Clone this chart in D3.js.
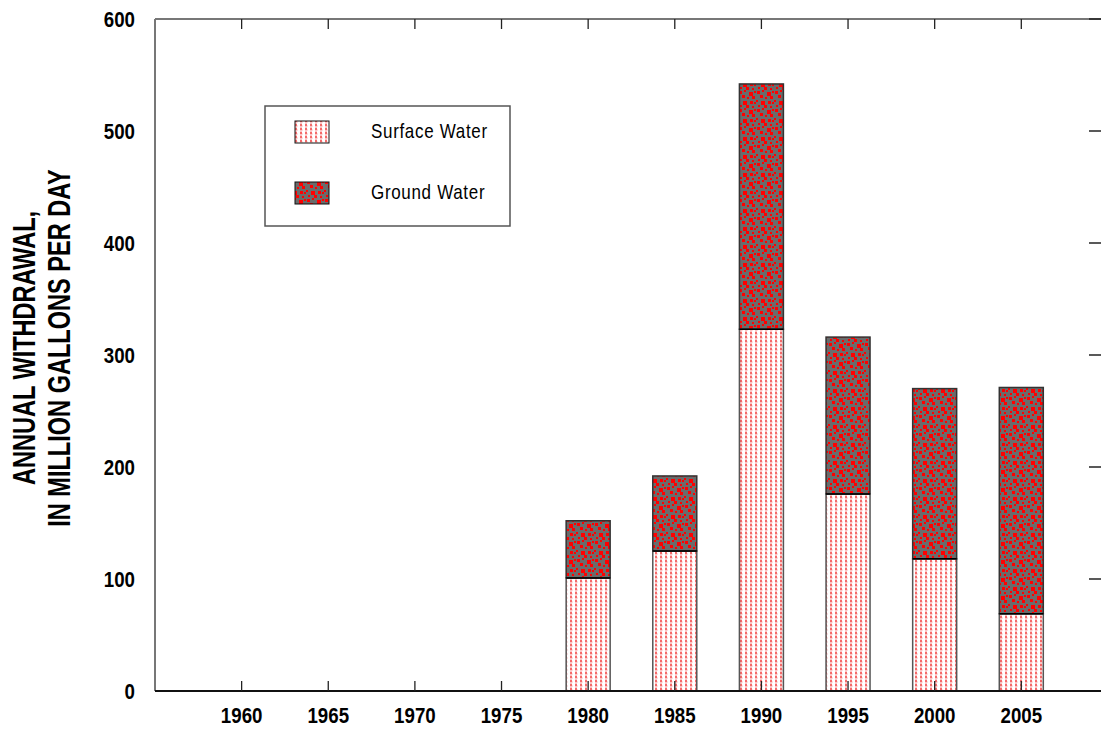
<!DOCTYPE html>
<html>
<head>
<meta charset="utf-8">
<script src="https://cdn.jsdelivr.net/npm/d3@7"></script>
<style>
  html, body { margin: 0; padding: 0; background: #fff; }
  svg { display: block; }
  text { font-family: "Liberation Sans", Arial, sans-serif; }
</style>
</head>
<body>
<div id="chart"></div>
<script>
(function() {
  'use strict';

  // data
  var years = [1960, 1965, 1970, 1975, 1980, 1985, 1990, 1995, 2000, 2005];
  var surfaceWater = [0, 0, 0, 0, 101, 125, 323, 176, 118, 69];
  var groundWater = [0, 0, 0, 0, 51, 67, 219, 140, 152, 202];
  var yTicks = [0, 100, 200, 300, 400, 500, 600];
  var seriesNames = ['Surface Water', 'Ground Water'];

  var width = 1102, height = 729;
  var margin = { left: 155, top: 19, right: 1101, bottom: 691 };

  var svg = d3.select('#chart')
      .append('svg')
    .attr('width', width)
    .attr('height', height);

  // narrow text: no condensed font installed, so squeeze horizontally
  function narrowText(parent, px, py, sx, str) {
    return parent.append('g')
      .attr('transform', 'translate(' + px + ',' + py + ') scale(' + sx + ',1)')
      .append('text')
      .text(str);
  }

  var defs = svg.append('defs');

  // surface water: white with pink/red dots in columns
  var pSurf = defs.append('pattern')
    .attr('id', 'surf')
    .attr('patternUnits', 'userSpaceOnUse')
    .attr('width', 5).attr('height', 4);
  pSurf.append('rect').attr('width', 5).attr('height', 4).attr('fill', '#fff');
  pSurf.append('rect').attr('x', 0).attr('y', 0).attr('width', 2).attr('height', 2).attr('fill', '#f46a6a');
  pSurf.append('rect').attr('x', 0).attr('y', 2).attr('width', 2).attr('height', 2).attr('fill', '#fbc4c4');
  pSurf.append('rect').attr('x', 2).attr('y', 1).attr('width', 1).attr('height', 2).attr('fill', '#fde0e0');

  // ground water: gray with scattered red squares
  var pGround = defs.append('pattern')
    .attr('id', 'ground')
    .attr('patternUnits', 'userSpaceOnUse')
    .attr('width', 18).attr('height', 18);
  pGround.append('rect').attr('width', 18).attr('height', 18).attr('fill', '#6b6b6b');
  [[1, 1, 3], [6, 0, 2], [11, 2, 4], [16, 1, 2], [4, 5, 3], [9, 7, 2], [14, 6, 3],
   [0, 10, 2], [5, 11, 4], [12, 11, 3], [16, 12, 2], [2, 15, 2], [8, 15, 3], [14, 16, 2]]
    .forEach(function(s) {
      pGround.append('rect')
        .attr('x', s[0]).attr('y', s[1])
        .attr('width', s[2]).attr('height', s[2])
        .attr('fill', '#ff0000');
    });

  var x = d3.scaleLinear()
    .domain([1955, 2009.6])
    .range([margin.left, margin.right]);

  var y = d3.scaleLinear()
    .domain([0, 600])
    .range([margin.bottom, margin.top]);

  var barW = 44;

  // frame
  svg.append('line')
    .attr('x1', margin.left).attr('x2', margin.left)
    .attr('y1', margin.top).attr('y2', margin.bottom)
    .attr('stroke', '#777').attr('stroke-width', 2);
  svg.append('line')
    .attr('x1', margin.left).attr('x2', margin.right)
    .attr('y1', margin.top).attr('y2', margin.top)
    .attr('stroke', '#777').attr('stroke-width', 2);

  // bars
  var stacked = years.map(function(yr, i) {
    return { year: yr, s: surfaceWater[i], g: groundWater[i] };
  });

  var bars = svg.append('g').attr('class', 'bars');
  bars.selectAll('rect.surf')
    .data(stacked)
    .enter().append('rect')
    .attr('class', 'surf')
    .attr('x', function(d) { return x(d.year) - barW / 2; })
    .attr('y', function(d) { return y(d.s); })
    .attr('width', barW)
    .attr('height', function(d) { return y(0) - y(d.s); })
    .attr('fill', 'url(#surf)')
    .attr('stroke', '#555')
    .attr('stroke-width', 1.5);

  bars.selectAll('rect.ground')
    .data(stacked)
    .enter().append('rect')
    .attr('class', 'ground')
    .attr('x', function(d) { return x(d.year) - barW / 2; })
    .attr('y', function(d) { return y(d.s + d.g); })
    .attr('width', barW)
    .attr('height', function(d) { return y(d.s) - y(d.s + d.g); })
    .attr('fill', 'url(#ground)')
    .attr('stroke', '#333')
    .attr('stroke-width', 1.5);

  // black line at top of the surface segment
  bars.selectAll('line.topS')
    .data(stacked.filter(function(d) { return d.s > 0; }))
    .enter().append('line')
    .attr('x1', function(d) { return x(d.year) - barW / 2; })
    .attr('x2', function(d) { return x(d.year) + barW / 2; })
    .attr('y1', function(d) { return y(d.s); })
    .attr('y2', function(d) { return y(d.s); })
    .attr('stroke', '#000').attr('stroke-width', 1.5);

  // bottom axis line
  svg.append('line')
    .attr('x1', margin.left).attr('x2', margin.right)
    .attr('y1', margin.bottom).attr('y2', margin.bottom)
    .attr('stroke', '#111').attr('stroke-width', 2);

  // x ticks (inward, top and bottom)
  var xt = svg.append('g').attr('class', 'x-ticks');
  years.forEach(function(yr) {
    xt.append('line')
      .attr('x1', x(yr)).attr('x2', x(yr))
      .attr('y1', margin.bottom).attr('y2', margin.bottom - 10)
      .attr('stroke', '#222').attr('stroke-width', 1.3);
    xt.append('line')
      .attr('x1', x(yr)).attr('x2', x(yr))
      .attr('y1', margin.top).attr('y2', margin.top + 10)
      .attr('stroke', '#222').attr('stroke-width', 1.3);
    narrowText(xt, x(yr), 723, 0.85, yr)
      .attr('text-anchor', 'middle')
      .style('font-size', '22px')
      .style('font-weight', 'bold');
  });

  // y ticks (right, inward) and labels
  var yt = svg.append('g').attr('class', 'y-ticks');
  yTicks.forEach(function(v) {
    if (v > 0) {
      yt.append('line')
        .attr('x1', margin.right - 12).attr('x2', margin.right)
        .attr('y1', y(v)).attr('y2', y(v))
        .attr('stroke', '#222').attr('stroke-width', 1.5);
    }
    narrowText(yt, 135, y(v) + 8, 0.85, v)
      .attr('text-anchor', 'end')
      .style('font-size', '22px')
      .style('font-weight', 'bold');
  });

  // y title
  var title = svg.append('g')
    .attr('transform', 'translate(0,348) rotate(-90) scale(0.76,1)')
    .append('text')
    .attr('text-anchor', 'middle')
    .style('font-size', '31px')
    .style('font-weight', 'bold');
  title.append('tspan').attr('x', 0).attr('y', 35).text('ANNUAL WITHDRAWAL,');
  title.append('tspan').attr('x', 0).attr('y', 70).text('IN MILLION GALLONS PER DAY');

  // legend
  var legend = svg.append('g').attr('class', 'legend');
  legend.append('rect')
    .attr('x', 265).attr('y', 106)
    .attr('width', 245).attr('height', 120)
    .attr('fill', '#fff')
    .attr('stroke', '#555').attr('stroke-width', 1.5);
  var fills = ['url(#surf)', 'url(#ground)'];
  seriesNames.forEach(function(name, i) {
    legend.append('rect')
      .attr('x', 295).attr('y', 121 + i * 61)
      .attr('width', 34).attr('height', 22)
      .attr('fill', fills[i])
      .attr('stroke', '#111').attr('stroke-width', 1);
    narrowText(legend, 371, 138 + i * 61, 0.85, name)
      .style('font-size', '20px')
      .style('letter-spacing', '0.8px');
  });
})();
</script>
</body>
</html>
